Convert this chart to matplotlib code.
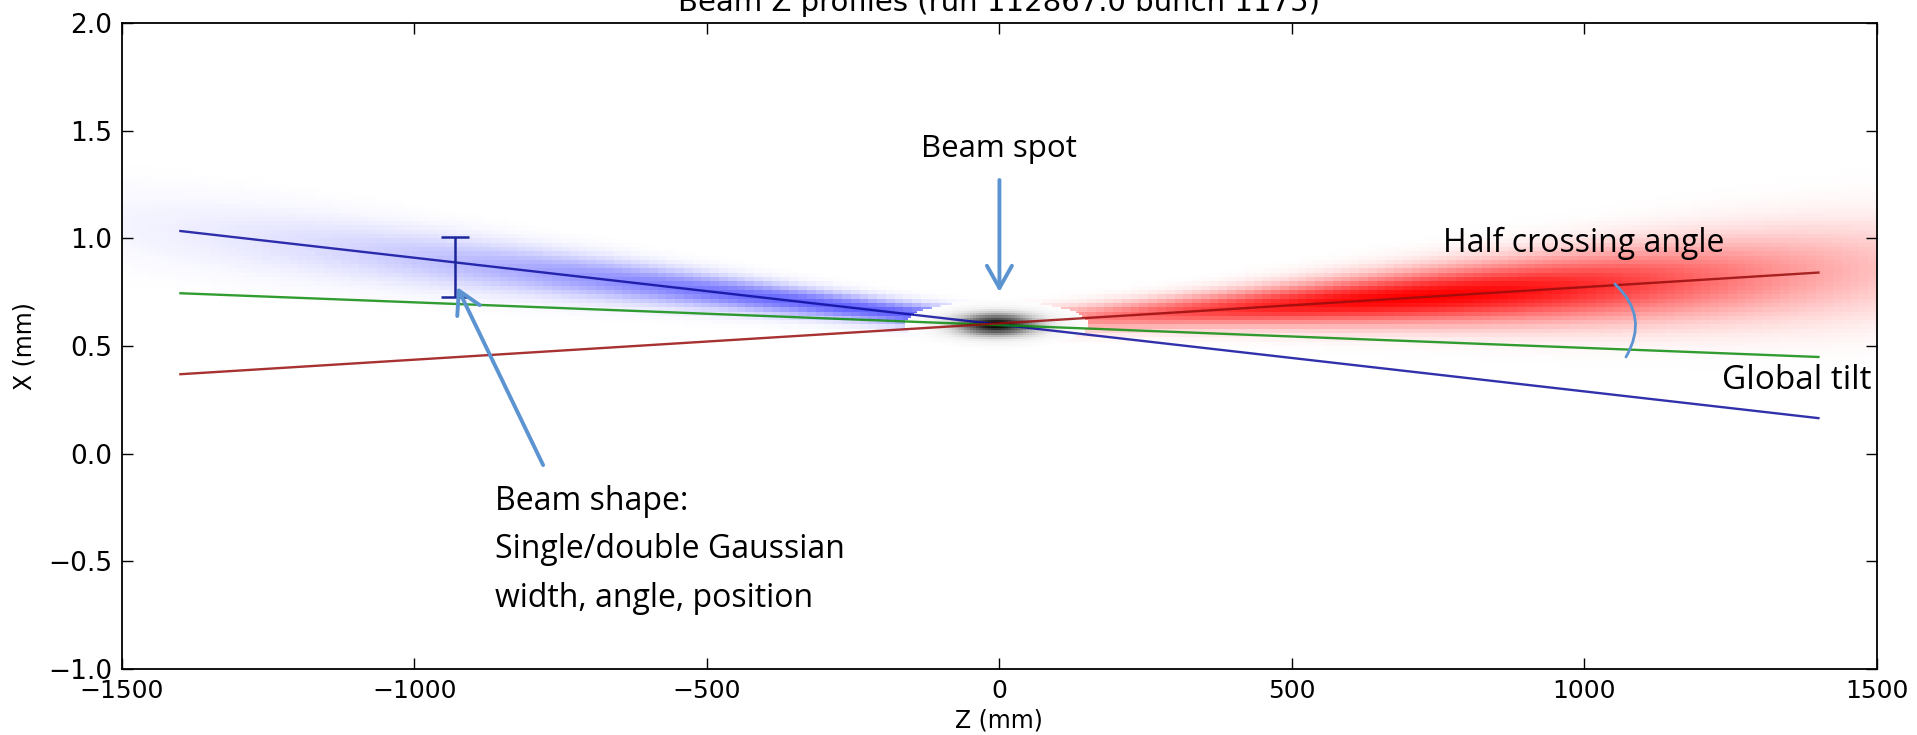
import numpy as np
import matplotlib
matplotlib.use("Agg")
import matplotlib.pyplot as plt
from matplotlib.colors import LinearSegmentedColormap
from matplotlib.patches import FancyArrowPatch

# ---------------- data ----------------
line_z = [-1400, 1400]             # Z (mm) end points of the fitted lines
blue_line_x = [1.034, 0.165]       # beam 1 axis
green_line_x = [0.745, 0.449]      # global tilt
red_line_x = [0.369, 0.841]        # beam 2 axis

err_z = [-930]                     # beam-width marker
err_x = [0.866]
err_half = [0.14]

# beam profile parameters (longitudinal peak, longitudinal width, waist width, divergence, peak level)
blue_beam = dict(z_peak=-200.0, z_width=560.0, s0=0.035, k=8e-5, level=0.72)
red_beam = dict(z_peak=720.0, z_width=470.0, s0=0.04, k=1.05e-4, level=1.0)
spot = dict(z0=-5.0, x0=0.597, sz=52.0, sx=0.038, cut=0.012)

title = "Beam Z profiles (run 112867.0 bunch 1175)"
xticks = [-1500, -1000, -500, 0, 500, 1000, 1500]
yticks = [-1.0, -0.5, 0.0, 0.5, 1.0, 1.5, 2.0]

# ---------------- figure ----------------
plt.rcParams['font.family'] = ['DejaVu Sans']
fig = plt.figure(figsize=(19.17, 7.35), dpi=100)
ax = fig.add_axes([0.0636, 0.0898, 0.9155, 0.8789])

ax.set_xlim(-1500, 1500)
ax.set_ylim(-1.0, 2.0)


def beam_image(zmin, zmax, nz, p, zl, xl):
    zc = np.linspace(zmin, zmax, nz + 1)
    zc = 0.5 * (zc[1:] + zc[:-1])
    xc = np.linspace(-1.0, 2.0, 151)
    xc = 0.5 * (xc[1:] + xc[:-1])
    Z, X = np.meshgrid(zc, xc)
    slope = (xl[1] - xl[0]) / (zl[1] - zl[0])
    centre = xl[0] + slope * (Z - zl[0])
    s = np.sqrt(p['s0'] ** 2 + (p['k'] * Z) ** 2)
    A = p['level'] * np.exp(-0.5 * ((Z - p['z_peak']) / p['z_width']) ** 2)
    return A * np.exp(-0.5 * ((X - centre) / s) ** 2)


blue_cmap = LinearSegmentedColormap.from_list(
    "bb", [(0.15, 0.15, 1.0, 0.0), (0.15, 0.15, 1.0, 1.0)])
red_cmap = LinearSegmentedColormap.from_list(
    "rb", [(1.0, 0.0, 0.0, 0.0), (1.0, 0.0, 0.0, 1.0)])

img_b = beam_image(-1500, 0, 100, blue_beam, line_z, blue_line_x)
img_r = beam_image(0, 1500, 100, red_beam, line_z, red_line_x)
ax.imshow(img_b, extent=[-1500, 0, -1, 2], origin='lower', cmap=blue_cmap,
          vmin=0, vmax=1, aspect='auto', interpolation='nearest', zorder=1)
ax.imshow(img_r, extent=[0, 1500, -1, 2], origin='lower', cmap=red_cmap,
          vmin=0, vmax=1, aspect='auto', interpolation='nearest', zorder=1)

# beam spot
zs = np.arange(-200, 200, 5.0) + 2.5
xs = np.arange(0.35, 0.85, 0.01) + 0.005
ZS, XS = np.meshgrid(zs, xs)
val = np.exp(-0.5 * (((ZS - spot['z0']) / spot['sz']) ** 2 + ((XS - spot['x0']) / spot['sx']) ** 2))
val = np.ma.masked_less(val, spot['cut'])
greys = plt.get_cmap('Greys').copy()
greys.set_bad((1, 1, 1, 0))
ax.imshow(val, extent=[-200, 200, 0.35, 0.85], origin='lower', cmap=greys,
          vmin=0, vmax=1, aspect='auto', interpolation='nearest', zorder=2)

# fitted lines
ax.plot(line_z, blue_line_x, color=(0.05, 0.05, 0.62), lw=1.7, alpha=0.85, zorder=3)
ax.plot(line_z, green_line_x, color=(0.05, 0.55, 0.05), lw=1.7, alpha=0.85, zorder=3)
ax.plot(line_z, red_line_x, color=(0.6, 0.05, 0.05), lw=1.7, alpha=0.85, zorder=3)

ax.errorbar(err_z, err_x, yerr=err_half, fmt='none', ecolor=(0.1, 0.15, 0.6),
            elinewidth=1.8, capsize=10, capthick=1.8, zorder=4)

# ---------------- annotations ----------------
acol = '#5b94d1'
afont = ['Open Sans', 'DejaVu Sans']
afs = 23

ax.text(0, 1.378, "Beam spot", ha='center', va='baseline', fontsize=22.5, family=afont, zorder=6)
ax.text(-862, -0.712, "Beam shape:\nSingle/double Gaussian\nwidth, angle, position",
        ha='left', va='baseline', fontsize=afs, family=afont, linespacing=1.62, zorder=6)
ax.text(758, 0.936, "Half crossing angle", ha='left', va='baseline', fontsize=afs, family=afont, zorder=6)
ax.text(1490, 0.30, "Global tilt", ha='right', va='baseline', fontsize=afs + 1, family=afont, zorder=6)

style = "->,head_length=0.8,head_width=0.45"
for tail, head in [((0, 1.271), (0, 0.751)), ((-780, -0.053), (-927, 0.774))]:
    ar = FancyArrowPatch(tail, head, arrowstyle=style, mutation_scale=20,
                         color=acol, lw=2.8, zorder=7, shrinkA=0, shrinkB=0,
                         capstyle='round', joinstyle='round')
    ax.add_patch(ar)

arc = FancyArrowPatch((1052, 0.788), (1071, 0.449), arrowstyle='-',
                      connectionstyle="arc3,rad=-0.4", color=acol, lw=2.0, zorder=7,
                      shrinkA=0, shrinkB=0)
ax.add_patch(arc)

# ---------------- axes styling (classic look) ----------------
ax.set_xticks(xticks)
ax.set_yticks(yticks)
ax.set_yticklabels([f"{v:.1f}".replace('-', '\u2212') for v in yticks])
ax.tick_params(direction='in', length=8, width=1, top=True, right=True, pad=7)
ax.tick_params(axis='x', labelsize=18)
ax.tick_params(axis='y', labelsize=19)
for sp in ax.spines.values():
    sp.set_linewidth(1.3)
ax.set_xlabel("Z (mm)", fontsize=17, labelpad=4)
ax.set_ylabel("X (mm)", fontsize=17, labelpad=8)
ax.set_title(title, fontsize=21, pad=9)

fig.savefig("out.png", dpi=100)
